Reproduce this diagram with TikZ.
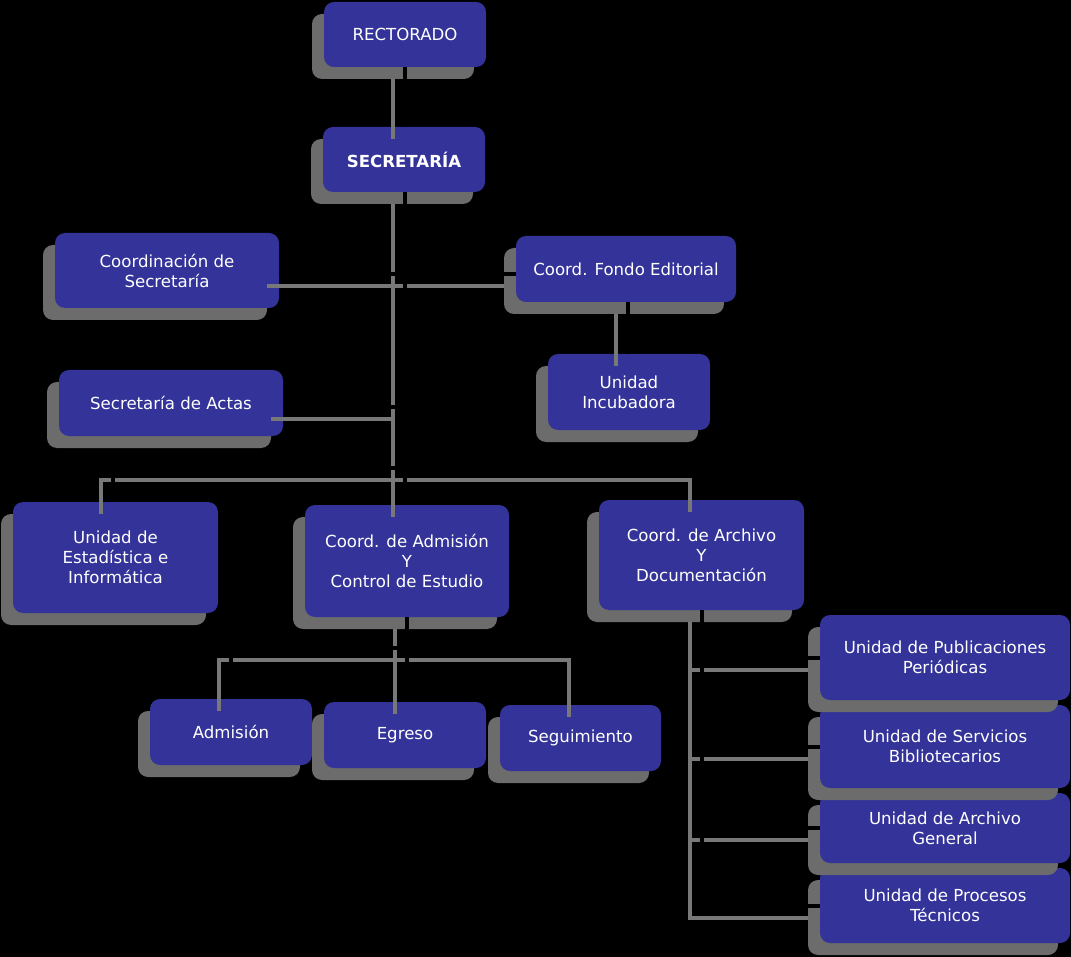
\documentclass[tikz,border=0pt]{standalone}
\usepackage{fontspec}
\setmainfont{DejaVu Sans}
\usetikzlibrary{shadows}
\definecolor{boxblue}{HTML}{333399}
\definecolor{shadowgray}{HTML}{6C6C6C}
\definecolor{linegray}{HTML}{787878}
\tikzset{
  box/.style={fill=boxblue, rounded corners=10pt, text=white, align=center,
    inner sep=0pt, font=\fontsize{16.6}{20}\selectfont,
    drop shadow={shadow xshift=-12pt, shadow yshift=-12pt, fill=shadowgray, opacity=1}},
  lineshadow/.style={draw=linegray, line width=4pt, transform canvas={shift={(-12pt,-12pt)}}},
  linefront/.style={draw=black, line width=4pt},
}
\newcommand\orgconnectors[1]{%
  \draw[#1] (rect.south) -- (rect.south |- sec.north);
  \draw[#1] (rect.south |- sec.south) -- (rect.south |- admctrl.north);
  \draw[#1] ([yshift=-4pt]coordsec.east) -- ([yshift=-4pt]coordsec.east -| fondo.west);
  \draw[#1] ([yshift=-4pt]actas.east) -- ([yshift=-4pt]actas.east -| rect.south);
  \draw[#1] ([xshift=-2.5pt]estad.north) |- (bus) -| ([xshift=0.5pt]archdoc.north);
  \draw[#1] ([xshift=2pt]fondo.south) -- ([xshift=2pt]fondo.south |- incub.north);
  \draw[#1] (admctrl.south) -- (admctrl.south |- egreso.north);
  \draw[#1] (admision.north) |- (adbus) -| (seguim.north);
  \draw[#1] (archdoc.south) |- (proc.west);
  \draw[#1] (archdoc.south |- pub.west) -- (pub.west);
  \draw[#1] (archdoc.south |- serv.west) -- (serv.west);
  \draw[#1] (archdoc.south |- archgen.west) -- (archgen.west);
}
\begin{document}
\begin{tikzpicture}[x=1pt,y=-1pt]
\useasboundingbox[fill=black] (0,0) rectangle (1071,957);
% boxes
\node[box, minimum width=162pt, minimum height=65pt] (rect) at (405,34.5) {RECTORADO};
\node[box, minimum width=162pt, minimum height=65pt] (sec) at (404,159.5) {\bfseries SECRETARÍA};
\node[box, minimum width=224pt, minimum height=75pt] (coordsec) at (167,270.5) {Coordinación de\\Secretaría};
\node[box, minimum width=220pt, minimum height=66pt] (fondo) at (626,269) {Coord. Fondo Editorial};
\node[box, minimum width=162pt, minimum height=76pt] (incub) at (629,392) {Unidad\\Incubadora};
\node[box, minimum width=224pt, minimum height=66pt] (actas) at (171,403) {Secretaría de Actas};
\node[box, minimum width=205pt, minimum height=111pt] (estad) at (115.5,557.5) {Unidad de\\Estadística e\\Informática};
\node[box, minimum width=204pt, minimum height=112pt] (admctrl) at (407,561) {Coord. de Admisión\\Y\\Control de Estudio};
\node[box, minimum width=205pt, minimum height=110pt] (archdoc) at (701.5,555) {Coord. de Archivo\\Y\\Documentación};
\node[box, minimum width=162pt, minimum height=66pt] (admision) at (231,732) {Admisión};
\node[box, minimum width=162pt, minimum height=66pt] (egreso) at (405,735) {Egreso};
\node[box, minimum width=161pt, minimum height=66pt] (seguim) at (580.5,738) {Seguimiento};
\node[box, minimum width=250pt, minimum height=75pt] (proc) at (945,905.5) {Unidad de Procesos\\Técnicos};
\node[box, minimum width=250pt, minimum height=70pt] (archgen) at (945,828) {Unidad de Archivo\\General};
\node[box, minimum width=250pt, minimum height=83pt] (serv) at (945,746.5) {Unidad de Servicios\\Bibliotecarios};
\node[box, minimum width=250pt, minimum height=85pt] (pub) at (945,657.5) {Unidad de Publicaciones\\Periódicas};
% junction points
\coordinate (bus) at (405,468);
\coordinate (adbus) at (407,648);
% connectors: gray shadow copies first, then black lines
\orgconnectors{lineshadow}
\orgconnectors{linefront}
\end{tikzpicture}
\end{document}
